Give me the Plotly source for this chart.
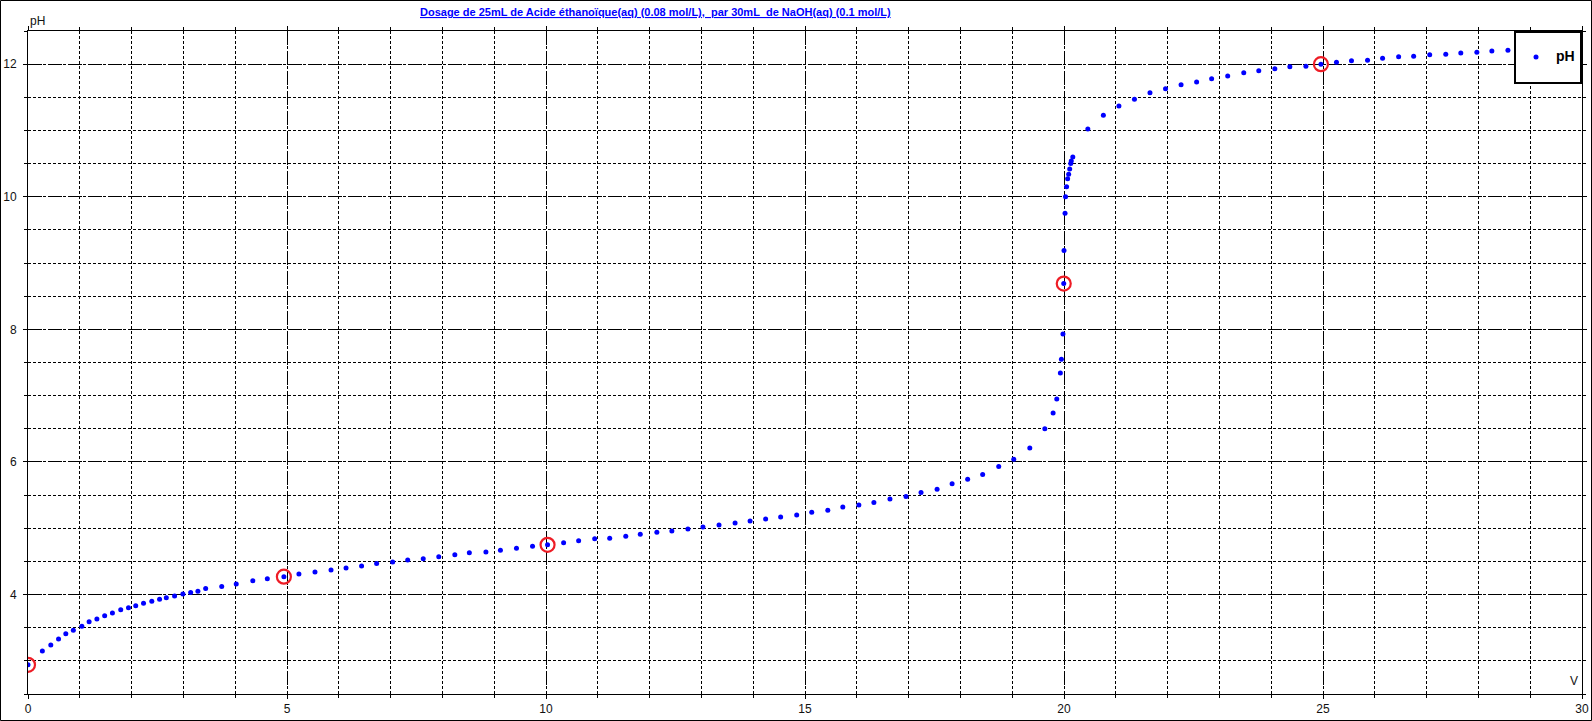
import plotly.graph_objects as go

# ---- data ----
v_ml = [0, 0.277, 0.44, 0.59, 0.73, 0.875, 1.04, 1.18, 1.33, 1.48, 1.63, 1.79, 1.94, 2.08, 2.23,
        2.39, 2.54, 2.67, 2.83, 2.99, 3.14, 3.28, 3.43, 3.74, 4.02, 4.34, 4.62,
        4.94, 5.23, 5.54, 5.85, 6.14, 6.44, 6.73, 7.04, 7.33, 7.63, 7.93, 8.24, 8.52, 8.84,
        9.12, 9.43, 9.74, 10.03, 10.34, 10.63, 10.94, 11.23, 11.54,
        11.82, 12.14, 12.43, 12.74, 13.03, 13.34, 13.65, 13.94, 14.24, 14.53, 14.84, 15.13,
        15.44, 15.73, 16.04, 16.33, 16.64, 16.95, 17.24, 17.55, 17.84, 18.14, 18.43,
        18.74, 19.03, 19.34, 19.63, 19.79, 19.86, 19.93, 19.95, 19.98, 19.995, 20.00, 20.02,
        20.03, 20.05, 20.07, 20.09, 20.11, 20.13, 20.14, 20.17,
        20.46, 20.76, 21.06, 21.36, 21.66, 21.96, 22.26, 22.56, 22.85, 23.16, 23.47, 23.76,
        24.07, 24.36,
        24.67, 24.96, 25.26, 25.55, 25.86, 26.15, 26.46, 26.75, 27.06, 27.37, 27.66, 27.97,
        28.26, 28.57, 28.86, 29.15, 29.45, 29.74, 30.0]

ph = [2.94, 3.15, 3.24, 3.33, 3.41, 3.46, 3.52, 3.59, 3.63, 3.68, 3.72, 3.77, 3.80, 3.83, 3.87,
      3.90, 3.93, 3.95, 3.98, 4.01, 4.03, 4.05, 4.09, 4.12, 4.16, 4.21, 4.24,
      4.27, 4.31, 4.34, 4.37, 4.40, 4.43, 4.47, 4.49, 4.52, 4.54, 4.57, 4.60, 4.63, 4.64,
      4.67, 4.70, 4.73, 4.75, 4.78, 4.81, 4.84, 4.85, 4.88,
      4.91, 4.94, 4.96, 4.99, 5.02, 5.05, 5.08, 5.11, 5.14, 5.17, 5.20, 5.24,
      5.27, 5.32, 5.35, 5.39, 5.44, 5.48, 5.54, 5.59, 5.67, 5.74, 5.81,
      5.93, 6.04, 6.21, 6.50, 6.74, 6.95, 7.34, 7.55, 7.93, 8.69, 9.19, 9.75,
      10.00, 10.15, 10.27, 10.34, 10.42, 10.50, 10.54, 10.60,
      11.02, 11.23, 11.37, 11.47, 11.57, 11.63, 11.69, 11.73, 11.78, 11.82, 11.87, 11.90,
      11.93, 11.96,
      11.97, 12.00, 12.03, 12.05, 12.06, 12.09, 12.11, 12.12, 12.14, 12.15, 12.17, 12.18,
      12.20, 12.21, 12.21, 12.23, 12.24, 12.25, 12.26]

marked_v = [0, 4.94, 10.03, 19.995, 24.96]
marked_ph = [2.94, 4.27, 4.75, 8.69, 12.00]

x_ticks = [0, 5, 10, 15, 20, 25, 30]
y_ticks = [4, 6, 8, 10, 12]

title_text = "Dosage de 25mL de Acide éthanoïque(aq) (0.08 mol/L),\u00a0 par 30mL\u00a0 de NaOH(aq) (0.1 mol/L)"

W, H = 1592, 721
ML, MR, MT, MB = 28, 10, 31, 27
PW, PH_ = W - ML - MR, H - MT - MB

def px_x(p):
    return (p - ML) / PW

def px_y(p):
    return (H - MB - p) / PH_

fig = go.Figure()
fig.add_trace(go.Scatter(
    x=v_ml, y=ph, mode="markers",
    name="\u00a0<br><span style='font-size:14px'><b>pH</b></span><br>\u00a0",
    marker=dict(color="#0000FF", size=5, line=dict(width=0)),
))
fig.add_trace(go.Scatter(
    x=marked_v, y=marked_ph, mode="markers", showlegend=False,
    marker=dict(symbol="circle-open", color="#EE1C25", size=14, line=dict(width=2.2, color="#EE1C25")),
))

tick_font = dict(family="Liberation Sans, Arial, sans-serif", size=12, color="#111111")

fig.update_xaxes(
    range=[0, 30], tickvals=x_ticks, ticktext=[str(t) for t in x_ticks],
    showgrid=True, gridcolor="black", gridwidth=1, griddash="14px,6px",
    ticks="outside", ticklen=4, tickcolor="black", tickwidth=1,
    showline=True, linecolor="black", linewidth=1, mirror="allticks",
    zeroline=False, tickfont=tick_font, automargin=False,
    minor=dict(dtick=1, tick0=0, showgrid=True, gridcolor="black", gridwidth=1,
               griddash="3px,2px", ticks="outside", ticklen=3, tickcolor="black"),
)
fig.update_yaxes(
    range=[2.5, 12.5], tickvals=y_ticks, ticktext=[str(t) for t in y_ticks],
    showgrid=True, gridcolor="black", gridwidth=1, griddash="14px,6px",
    ticks="outside", ticklen=4, tickcolor="black", tickwidth=1,
    showline=True, linecolor="black", linewidth=1, mirror="allticks",
    zeroline=False, tickfont=tick_font, ticklabelstandoff=4, automargin=False,
    minor=dict(dtick=0.5, tick0=0, showgrid=True, gridcolor="black", gridwidth=1,
               griddash="3px,2px", ticks="outside", ticklen=3, tickcolor="black"),
)

fig.update_layout(
    width=W, height=H, autosize=False,
    margin=dict(l=ML, r=MR, t=MT, b=MB, pad=0, autoexpand=False),
    paper_bgcolor="white", plot_bgcolor="white",
    showlegend=True,
    legend=dict(x=1, xanchor="right", y=1, yanchor="top",
                bgcolor="white", bordercolor="black", borderwidth=2,
                font=dict(family="Liberation Sans, Arial, sans-serif", size=9, color="black"),
                itemwidth=30, valign="middle"),
    annotations=[
        dict(text="<u><b>" + title_text + "</b></u>", x=px_x(655), y=px_y(12),
             xref="paper", yref="paper", xanchor="center", yanchor="middle", showarrow=False,
             font=dict(family="Liberation Sans, Arial, sans-serif", size=11, color="#0000FF")),
        dict(text="pH", x=px_x(28), y=px_y(21), xref="paper", yref="paper",
             xanchor="left", yanchor="middle", showarrow=False, font=tick_font),
        dict(text="V", x=px_x(1580), y=px_y(681), xref="paper", yref="paper",
             xanchor="right", yanchor="middle", showarrow=False, font=tick_font),
    ],
    shapes=[
        dict(type="rect", xref="paper", yref="paper",
             x0=px_x(0.5), x1=px_x(W - 0.5), y0=px_y(H - 0.5), y1=px_y(0.5),
             line=dict(color="black", width=1), fillcolor="rgba(0,0,0,0)", layer="above"),
    ],
)

fig.write_html("out.html", config={"displayModeBar": False},
               post_script="document.body.style.margin='0';")
